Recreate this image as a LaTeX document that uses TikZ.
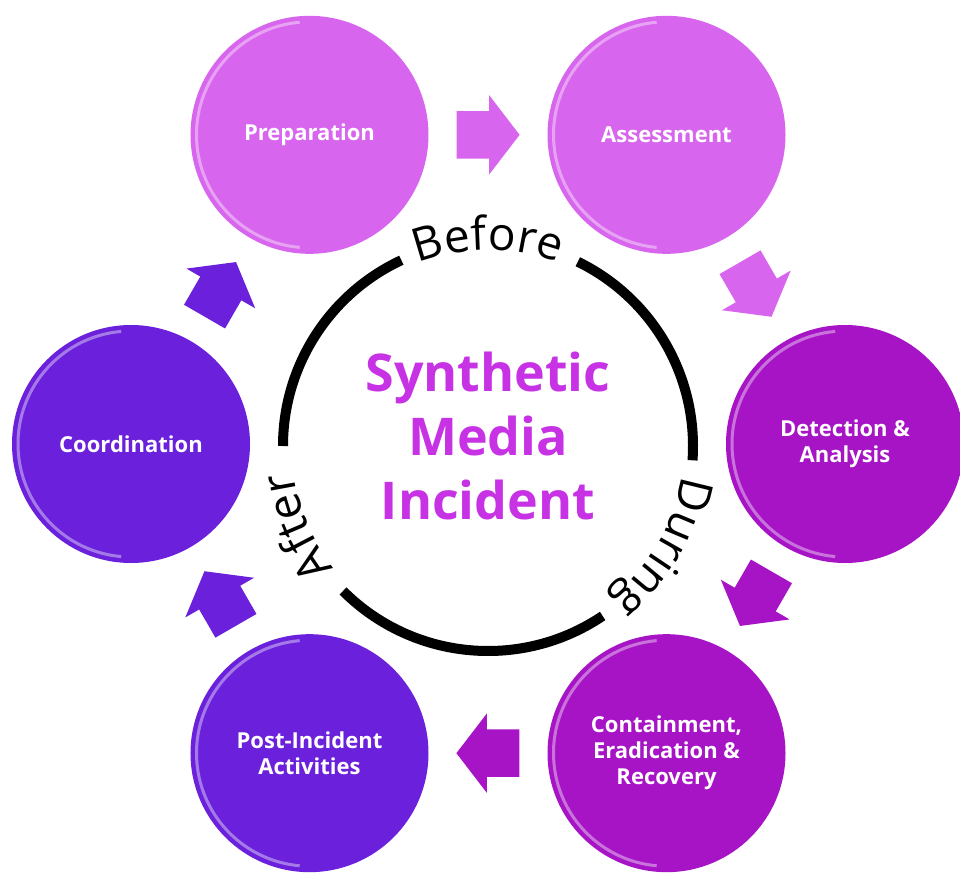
\documentclass[tikz,border=0pt]{standalone}
\usepackage{fontspec}
\setmainfont{Open Sans}
\usetikzlibrary{calc,shapes.arrows,decorations.text}

\definecolor{lilac}{HTML}{D865EE}
\definecolor{plum}{HTML}{A714C6}
\definecolor{indigo}{HTML}{6B21DB}
\definecolor{headline}{HTML}{C632E4}

\begin{document}
\begin{tikzpicture}[
      x=1pt, y=1pt,
      stage/.style={circle, minimum size=238pt, inner sep=0pt, align=center, text=white,
        font=\bfseries\fontsize{22}{26}\selectfont,
        path picture={\draw[white, opacity=0.4, line width=3pt]
          ([shift={(95:113pt)}]path picture bounding box.center)
          arc[start angle=95, end angle=265, radius=113pt];}},
      flow/.style={single arrow, minimum height=63pt, inner xsep=0pt, inner ysep=23.5pt,
        single arrow head extend=16pt, single arrow tip angle=105, rotate=#1, xshift=-9pt},
      ring/.style={line width=10pt},
      phase/.style={decorate, decoration={text along path, text align=center,
        text={|\fontsize{46}{54}\selectfont|#1}}}
    ]
    \useasboundingbox (-488,-432) rectangle (472,444);

    \node[font=\bfseries\fontsize{52}{64}\selectfont, text=headline, align=center] (title) at (0,8) {Synthetic\\Media\\Incident};

    \node[stage, fill=lilac] (prep) at (120:357) {Preparation};
    \node[stage, fill=lilac] (assess) at (60:357) {Assessment};
    \node[stage, fill=plum] (detect) at (0:357) {Detection \&\\Analysis};
    \node[stage, fill=plum] (contain) at (-60:357) {Containment,\\Eradication \&\\Recovery};
    \node[stage, fill=indigo] (post) at (-120:357) {Post-Incident\\Activities};
    \node[stage, fill=indigo] (coord) at (180:357) {Coordination};

    \node[flow=0, fill=lilac] (prep-assess) at ($(prep)!0.5!(assess)$) {};
    \node[flow=-60, fill=lilac] (assess-detect) at ($(assess)!0.5!(detect)$) {};
    \node[flow=-120, fill=plum] (detect-contain) at ($(detect)!0.5!(contain)$) {};
    \node[flow=180, fill=plum] (contain-post) at ($(contain)!0.5!(post)$) {};
    \node[flow=120, fill=indigo] (post-coord) at ($(post)!0.5!(coord)$) {};
    \node[flow=60, fill=indigo] (coord-prep) at ($(coord)!0.5!(prep)$) {};

    \coordinate (hub) at (0,-2);
    \draw[ring] ([shift={(115:205)}]hub) arc[start angle=115, end angle=180, radius=205];
    \draw[ring] ([shift={(225:205)}]hub) arc[start angle=225, end angle=304, radius=205];
    \draw[ring] ([shift={(-4:205)}]hub) arc[start angle=-4, end angle=64, radius=205];

    \path[phase=Before] ([shift={(135:196)}]hub) arc[start angle=135, end angle=45, radius=196];
    \path[phase=During] ([shift={(15:196)}]hub) arc[start angle=15, end angle=-75, radius=196];
    \path[phase=After] ([shift={(248:196)}]hub) arc[start angle=248, end angle=158, radius=196];
  \end{tikzpicture}
\end{document}
